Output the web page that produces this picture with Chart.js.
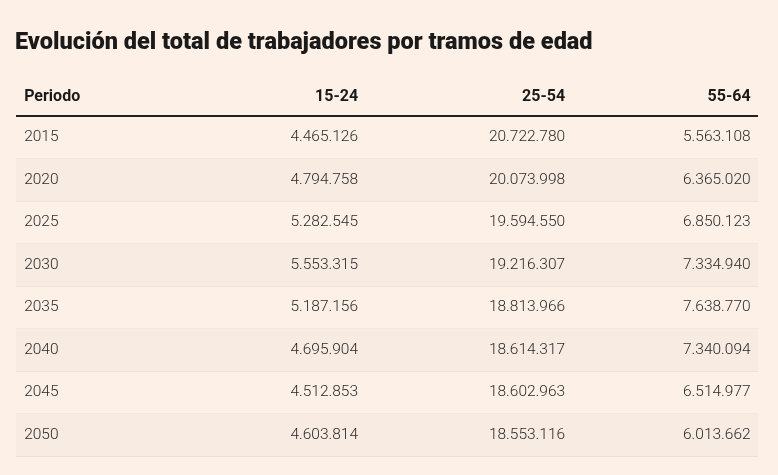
<!DOCTYPE html>
<html><head><meta charset="utf-8">
<script src="https://cdn.jsdelivr.net/npm/chart.js"></script>
<style>
html,body{margin:0;padding:0;background:#fdf1e7;}
#wrap{width:778px;height:475px;}
</style></head>
<body><div id="wrap"><canvas id="c"></canvas></div>
<script>
const title = 'Evolución del total de trabajadores por tramos de edad';
const headers = ['Periodo', '15-24', '25-54', '55-64'];
const periods = ['2015', '2020', '2025', '2030', '2035', '2040', '2045', '2050'];
const age15_24 = [4465126, 4794758, 5282545, 5553315, 5187156, 4695904, 4512853, 4603814];
const age25_54 = [20722780, 20073998, 19594550, 19216307, 18813966, 18614317, 18602963, 18553116];
const age55_64 = [5563108, 6365020, 6850123, 7334940, 7638770, 7340094, 6514977, 6013662];

// column anchors on the x scale (0..1 across the table)
const colX = [0.011, 0.461, 0.74, 0.99];
const fmt = v => v.toString().replace(/\B(?=(\d{3})+(?!\d))/g, '.');

const tablePlugin = {
  id: 'table',
  afterDatasetsDraw(chart) {
    const { ctx, scales: { x, y }, chartArea } = chart;
    ctx.save();
    ctx.fillStyle = '#1a1a1a';
    ctx.font = '900 23.5px Roboto';
    ctx.textAlign = 'left';
    ctx.textBaseline = 'alphabetic';
    ctx.fillText(title, 15, 49);

    ctx.font = 'bold 16px Roboto';
    ctx.textBaseline = 'middle';
    headers.forEach((h, i) => {
      ctx.textAlign = i === 0 ? 'left' : 'right';
      ctx.fillText(h, x.getPixelForValue(colX[i]), 97);
    });
    ctx.strokeStyle = '#222';
    ctx.lineWidth = 2;
    ctx.beginPath();
    ctx.moveTo(chartArea.left, chartArea.top);
    ctx.lineTo(chartArea.right, chartArea.top);
    ctx.stroke();

    ctx.font = '300 15.5px Roboto';
    ctx.fillStyle = '#2a2a2a';
    const cols = [age15_24, age25_54, age55_64];
    periods.forEach((p, r) => {
      const py = y.getPixelForValue(r);
      ctx.textAlign = 'left';
      ctx.fillText(p, x.getPixelForValue(colX[0]), py);
      ctx.textAlign = 'right';
      cols.forEach((c, k) => ctx.fillText(fmt(c[r]), x.getPixelForValue(colX[k + 1]), py));
    });
    ctx.restore();
  }
};

new Chart(document.getElementById('c'), {
  type: 'bar',
  data: {
    labels: periods,
    datasets: [{
      data: periods.map((p, i) => i % 2 ? [0, 1] : null),
      backgroundColor: '#f7ebe2',
      barPercentage: 1,
      categoryPercentage: 1
    }]
  },
  options: {
    indexAxis: 'y',
    responsive: true,
    maintainAspectRatio: false,
    animation: false,
    layout: { padding: { left: 16, right: 20, top: 116, bottom: 19 } },
    plugins: { legend: { display: false }, tooltip: { enabled: false } },
    scales: {
      x: { type: 'linear', min: 0, max: 1, display: false },
      y: {
        display: true,
        ticks: { display: false },
        grid: { color: '#ecdfd4', drawTicks: false, offset: true },
        border: { display: false }
      }
    }
  },
  plugins: [tablePlugin]
});
</script></body></html>
